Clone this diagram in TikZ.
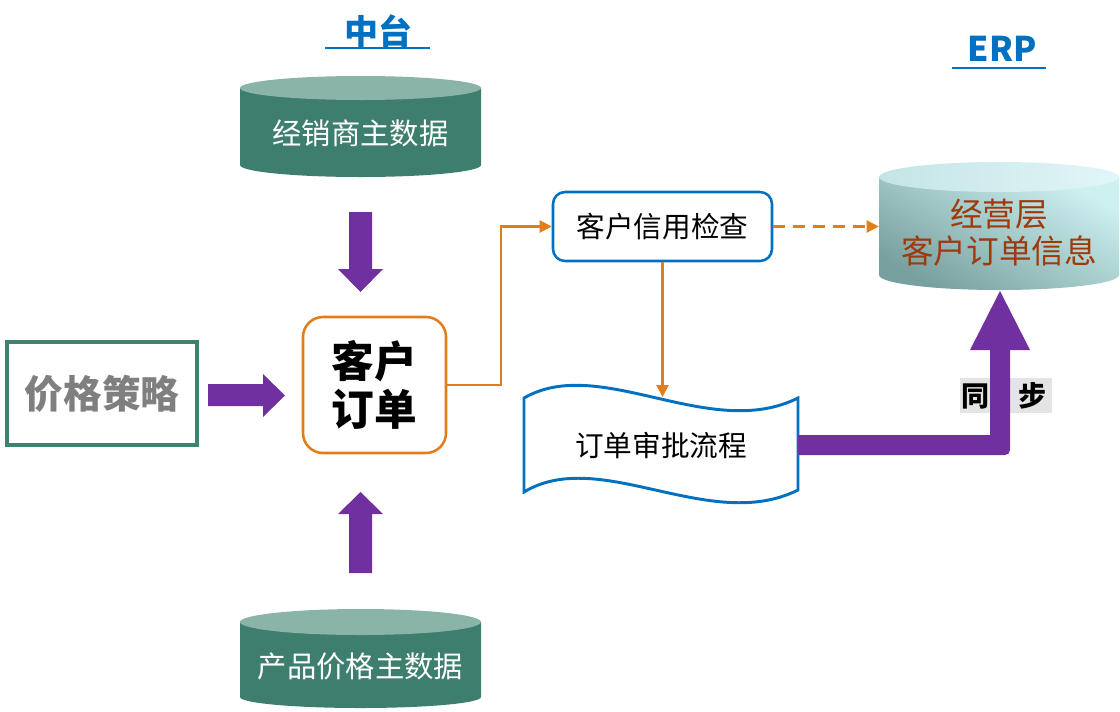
\documentclass[tikz,border=0pt]{standalone}
\usepackage{fontspec}
\newfontfamily\cjk{Noto Sans CJK SC}
\usetikzlibrary{arrows.meta}
\definecolor{TBlue}{RGB}{0,112,192}
\definecolor{CylSide}{RGB}{61,126,110}
\definecolor{CylTop}{RGB}{138,180,168}
\definecolor{PGreen}{RGB}{64,128,112}
\definecolor{PGray}{RGB}{127,127,127}
\definecolor{OLine}{RGB}{226,126,26}
\definecolor{Purp}{RGB}{112,48,160}
\definecolor{ErpLight}{RGB}{205,240,241}
\definecolor{ErpDark}{RGB}{120,160,158}
\definecolor{ErpTopL}{RGB}{226,246,248}
\definecolor{ErpTopD}{RGB}{196,228,230}
\definecolor{ErpText}{RGB}{158,58,12}
\definecolor{SyncBg}{RGB}{228,228,230}
\tikzset{
  title/.style={font=\cjk\bfseries\fontsize{25.5}{28}\selectfont, text=TBlue, inner sep=0pt},
  cyltext/.style={font=\cjk\fontsize{22}{26}\selectfont, text=white, inner sep=0pt},
  conn/.style={draw=OLine, line width=1.6pt, -{Triangle[length=9pt,width=9pt]}},
  blockarrow/.style={fill=Purp},
  synctext/.style={font=\cjk\bfseries\fontsize{21}{24}\selectfont, inner sep=0pt},
}
\begin{document}
\begin{tikzpicture}[x=0.75pt,y=-0.75pt]
\useasboundingbox (0,0) rectangle (1120,711);

% titles
\node[title] (t1) at (378,31) {中台};
\draw[TBlue, line width=1.5pt] (325,48) -- (430,48);
\node[title] (t2) at (1002,49) {ERP};
\draw[TBlue, line width=1.5pt] (952,68) -- (1046,68);

% cylinder 1
\fill[CylSide] (240,88) -- (240,165) arc[start angle=180,end angle=0,x radius=120.5,y radius=12] -- (481,88) -- cycle;
\fill[CylTop] (360.5,88) ellipse[x radius=120.5,y radius=12];
\node[cyltext] (d1) at (360.5,133) {经销商主数据};

% cylinder 2
\fill[CylSide] (240,622) -- (240,697) arc[start angle=180,end angle=0,x radius=120.5,y radius=11] -- (481,622) -- cycle;
\fill[CylTop] (360.5,622) ellipse[x radius=120.5,y radius=13];
\node[cyltext] (d2) at (360.5,666) {产品价格主数据};

% ERP cylinder
\shade[top color=ErpLight, bottom color=ErpDark, shading angle=-30] (879,177) -- (879,275) arc[start angle=180,end angle=0,x radius=120,y radius=15] -- (1119,177) -- cycle;
\shade[left color=ErpTopD, right color=ErpTopL] (999,177) ellipse[x radius=120,y radius=15];
\node[font=\cjk\fontsize{24.5}{28}\selectfont, text=ErpText, align=center, inner sep=0pt,
      minimum width=180pt, minimum height=85.5pt] (erp) at (999,233) {经营层\\客户订单信息};

% price strategy
\node[draw=PGreen, line width=2.4pt, minimum width=142.5pt, minimum height=77.25pt,
      font=\cjk\bfseries\fontsize{29}{32}\selectfont, text=PGray] (ps) at (102,393.5) {价格策略};

% customer order
\node[draw=OLine, line width=1.9pt, rounded corners=15pt, minimum width=107.25pt, minimum height=102pt,
      font=\cjk\bfseries\fontsize{32}{36}\selectfont, align=center] (ord) at (374.5,385) {客户\\订单};

% credit check
\node[draw=TBlue, line width=1.9pt, rounded corners=9pt, minimum width=164.25pt, minimum height=51.75pt,
      font=\cjk\fontsize{21.5}{25}\selectfont] (chk) at (662.5,226.5) {客户信用检查};

% tape
\draw[TBlue, line width=2.2pt, fill=white] (524,398) .. controls (600,354) and (710,442) .. (798,398)
   -- (798,490) .. controls (710,534) and (600,446) .. (524,492) -- cycle;
\node[font=\cjk\fontsize{21.5}{25}\selectfont, inner sep=0pt] (tp) at (661,445) {订单审批流程};
\coordinate (wt) at (661,397);

% orange connectors
\draw[conn] (ord.east) -- ++(54,0) |- (chk.west);
\draw[conn] (chk.south) -- (chk.south |- wt);
\draw[conn, dash pattern=on 9pt off 6pt] (chk.east) -- (chk.east -| erp.west);

% purple block arrows
\fill[blockarrow] (349,212) -- (372,212) -- (372,269) -- (383,269) -- (360.5,292) -- (338,269) -- (349,269) -- cycle;
\fill[blockarrow] (349,573) -- (372,573) -- (372,514) -- (383,514) -- (360.5,492) -- (338,514) -- (349,514) -- cycle;
\fill[blockarrow] (208,384) -- (263,384) -- (263,374) -- (285,395.5) -- (263,417) -- (263,406) -- (208,406) -- cycle;

% sync label
\fill[SyncBg] (960,378) rectangle (1052,413);
\node[synctext] (s1) at (975,396) {同};
\node[synctext] (s2) at (1032,396) {步};

% sync elbow arrow
\fill[blockarrow] (798,435) -- (990,435) -- (990,350) -- (970,350) -- (1000,291) -- (1030,350) -- (1010,350)
   -- (1010,450) arc[start angle=0,end angle=90,radius=5] -- (798,455) -- cycle;
\end{tikzpicture}
\end{document}
